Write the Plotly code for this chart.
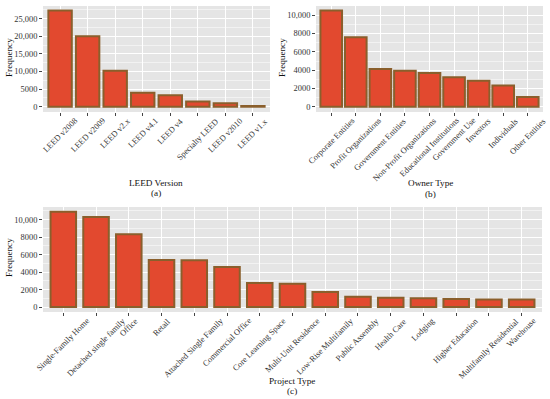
import plotly.graph_objects as go

# ---------------- data ----------------
leed_versions = ["LEED v2008", "LEED v2009", "LEED v2.x", "LEED v4.1", "LEED v4",
                 "Specialty LEED", "LEED v2010", "LEED v1.x"]
leed_freq = [27300, 20000, 10200, 4000, 3250, 1500, 950, 200]

owner_types = ["Corporate Entities", "Profit Organizations", "Government Entities",
               "Non-Profit Organizations", "Educational Institutions", "Government Use",
               "Investors", "Individuals", "Other Entities"]
owner_freq = [10500, 7580, 4120, 3950, 3680, 3220, 2850, 2330, 1070]

project_types = ["Single-Family Home", "Detached single family", "Office", "Retail",
                 "Attached Single Family", "Commercial Office", "Core Learning Space",
                 "Multi-Unit Residence", "Low-Rise Multifamily", "Public Assembly",
                 "Health Care", "Lodging", "Higher Education", "Multifamily Residential",
                 "Warehouse"]
project_freq = [10900, 10300, 8330, 5380, 5350, 4600, 2750, 2680, 1720, 1180,
                1070, 1000, 920, 880, 880]

ticks_a = [0, 5000, 10000, 15000, 20000, 25000]
ticklabels_a = ["0", "5000", "10,000", "15,000", "20,000", "25,000"]
ticks_bc = [0, 2000, 4000, 6000, 8000, 10000]
ticklabels_bc = ["0", "2000", "4000", "6000", "8000", "10,000"]

# ---------------- style ----------------
W, H = 550, 399
FONT = "Liberation Serif"
FILL = "#E2492F"
EDGE = "#8A5F2C"
BG = "#E5E5E5"
TICK_SIZE = 8.4
TITLE_SIZE = 9.2

def px_x(p):
    return p / W

def px_y(p):
    return 1 - p / H

fig = go.Figure()

panels = [
    dict(cats=leed_versions, vals=leed_freq, width=0.85, xs="x", ys="y",
         dom_x=[px_x(43), px_x(270)], dom_y=[px_y(112), px_y(6)],
         yr=[-1500, 28600], tv=ticks_a, tt=ticklabels_a),
    dict(cats=owner_types, vals=owner_freq, width=0.88, xs="x2", ys="y2",
         dom_x=[px_x(316), px_x(543)], dom_y=[px_y(112), px_y(6)],
         yr=[-560, 11000], tv=ticks_bc, tt=ticklabels_bc),
    dict(cats=project_types, vals=project_freq, width=0.78, xs="x3", ys="y3",
         dom_x=[px_x(43), px_x(542)], dom_y=[px_y(312), px_y(207)],
         yr=[-560, 11450], tv=ticks_bc, tt=ticklabels_bc),
]

layout = dict(
    width=W, height=H, margin=dict(l=0, r=0, t=0, b=0, autoexpand=False),
    paper_bgcolor="white", plot_bgcolor=BG, showlegend=False,
    font=dict(family=FONT, color="#222"),
)

for i, p in enumerate(panels):
    fig.add_trace(go.Bar(
        x=p["cats"], y=p["vals"], width=p["width"],
        marker=dict(color=FILL, line=dict(color=EDGE, width=2)),
        xaxis=p["xs"], yaxis=p["ys"],
    ))
    sfx = "" if i == 0 else str(i + 1)
    minor_vals = [(a + b) / 2 for a, b in zip(p["tv"][:-1], p["tv"][1:])]
    step = p["tv"][1] - p["tv"][0]
    minor_vals.append(p["tv"][-1] + step / 2)
    n = len(p["cats"])
    layout["xaxis" + sfx] = dict(
        domain=p["dom_x"], anchor="y" + sfx, range=[-0.62, n - 1 + 0.62],
        showgrid=True, gridcolor="white", gridwidth=1,
        ticks="outside", ticklen=3, tickcolor="#444", zeroline=False,
        showticklabels=False, showline=False, automargin=False,
    )
    layout["yaxis" + sfx] = dict(
        domain=p["dom_y"], anchor="x" + sfx, range=p["yr"],
        tickmode="array", tickvals=p["tv"], ticktext=p["tt"],
        showgrid=True, gridcolor="white", gridwidth=1.1, zeroline=False,
        ticks="outside", ticklen=3, tickcolor="#444",
        tickfont=dict(family=FONT, size=TICK_SIZE, color="#333"),
        automargin=False,
        minor=dict(tickmode="array", tickvals=minor_vals, showgrid=True,
                   gridcolor="#F2F2F2", gridwidth=0.6, ticks=""),
    )
    # rotated category labels, centred on their tick (ggplot angle=45 style)
    for c in p["cats"]:
        fig.add_annotation(
            text=c, x=c, xref=p["xs"], y=0, yref=p["ys"] + " domain",
            yshift=-3, xanchor="center", yanchor="top", textangle=-45,
            showarrow=False, borderpad=0,
            font=dict(family=FONT, size=TICK_SIZE, color="#333"),
        )

fig.update_layout(**layout)

def ann(text, x, y, angle=0, size=TITLE_SIZE):
    fig.add_annotation(text=text, x=px_x(x), y=px_y(y), xref="paper", yref="paper",
                       showarrow=False, textangle=angle,
                       font=dict(family=FONT, size=size, color="#111"),
                       xanchor="center", yanchor="middle")

ann("Frequency", 9, 58, -90)
ann("Frequency", 282, 58, -90)
ann("Frequency", 9, 258, -90)
ann("LEED Version", 156, 183)
ann("(a)", 156, 193)
ann("Owner Type", 430, 183)
ann("(b)", 430, 194)
ann("Project Type", 292, 381)
ann("(c)", 292, 391)

fig.write_html("out.html", config={"displayModeBar": False},
               post_script="document.body.style.margin='0px';document.body.style.padding='0px';")
